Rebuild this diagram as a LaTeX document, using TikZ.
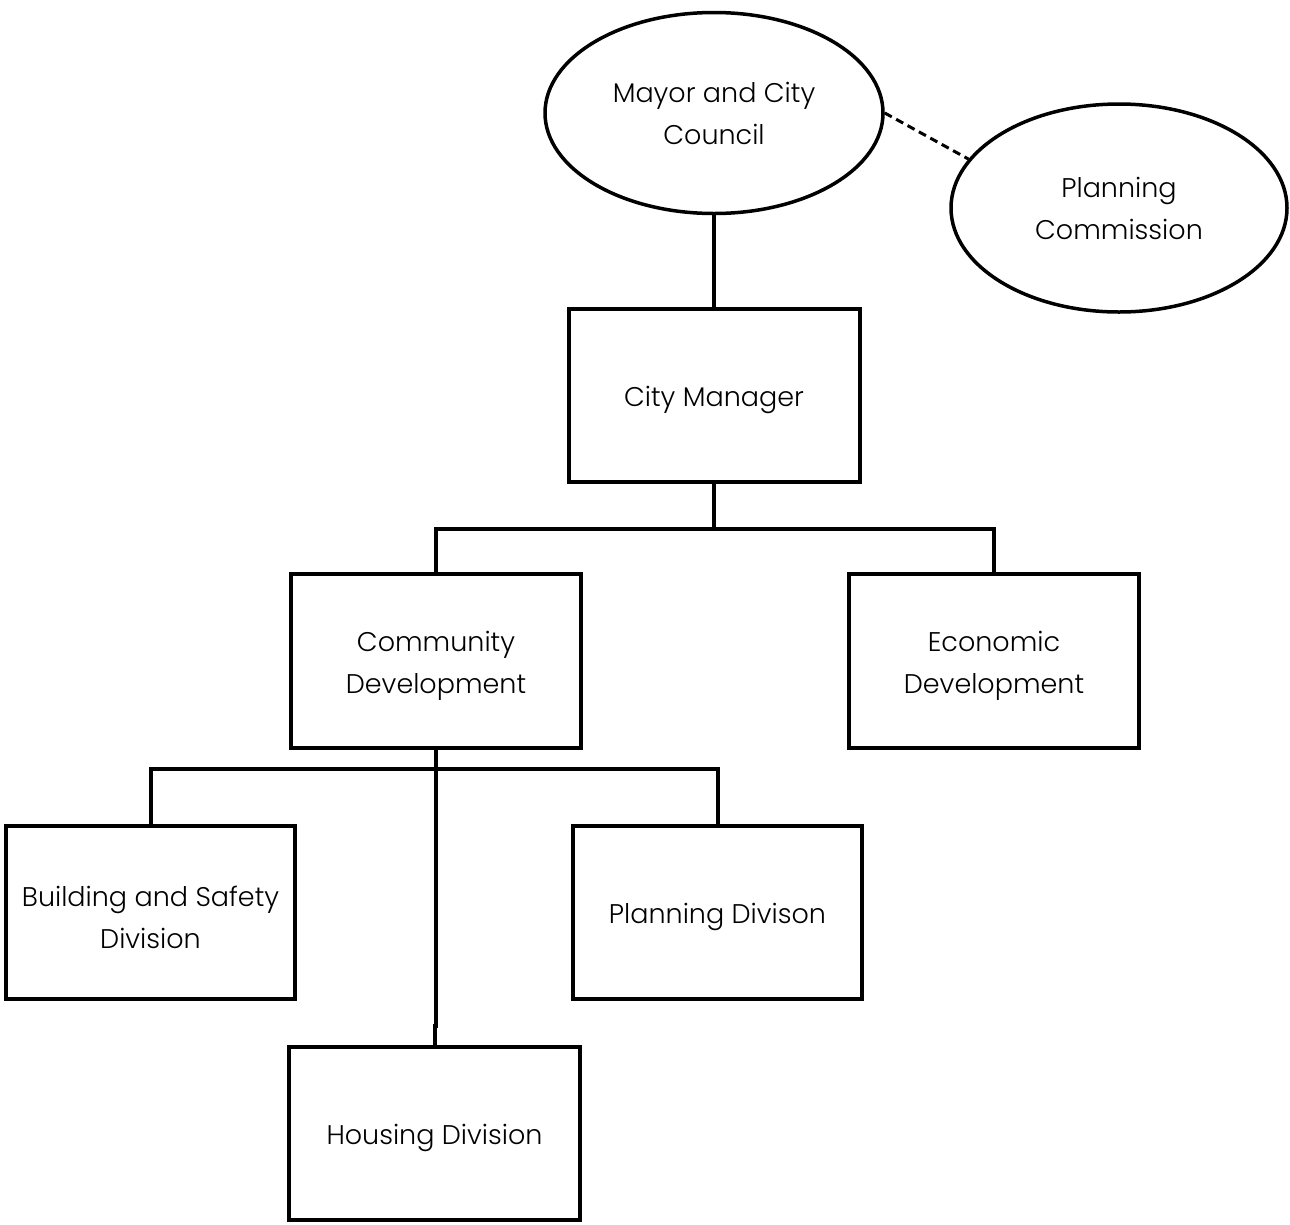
\documentclass[tikz,border=0pt]{standalone}
\usepackage{fontspec}
\setmainfont{Poppins}[UprightFont=* Light]
\usetikzlibrary{shapes.geometric}
\begin{document}
\begin{tikzpicture}[x=1pt,y=-1pt,
  every node/.style={font=\fontsize{27}{42}\selectfont, align=center, inner sep=0pt},
  unit/.style={draw, line width=4pt, rectangle, minimum width=290pt, minimum height=173pt, text height=30pt},
  unittwo/.style={unit, text height=72pt},
  oval/.style={draw, line width=3.5pt, ellipse},
  link/.style={line width=4pt},
  dotlink/.style={line width=3pt, dash pattern=on 8pt off 5pt}]
\useasboundingbox (0,0) rectangle (1290,1224);
\node[oval, minimum width=338pt, minimum height=201pt] (mayor) at (714,113) {Mayor and City\\Council};
\node[oval, minimum width=336pt, minimum height=208pt] (pc) at (1119,208) {Planning\\Commission};
\node[unit, minimum width=291pt] (cm) at (714,395.5) {City Manager};
\node[unittwo, minimum height=174pt] (cd) at (436,661) {Community\\Development};
\node[unittwo, minimum height=174pt] (ed) at (994,661) {Economic\\Development};
\node[unittwo, minimum width=289pt] (bs) at (150.5,912.5) {Building and Safety\\Division};
\node[unit, minimum width=289pt] (pd) at (717.5,912.5) {Planning Divison};
\node[unit, minimum width=291pt] (hd) at (434.5,1133.5) {Housing Division};
\coordinate (j1) at (714,529);
\coordinate (j2) at (436,769);
\coordinate (kink) at (436,1026);
\draw[dotlink] (mayor.east) -- (pc.162);
\draw[link] (mayor.south) -- (cm.north);
\draw[link] (cm.south) -- (j1);
\draw[link] (cd.north) -- (cd.north |- j1) -- (ed.north |- j1) -- (ed.north);
\draw[link] (bs.north) -- (bs.north |- j2) -- (pd.north |- j2) -- (pd.north);
\draw[link] (cd.south) -- (kink) -- (kink -| hd.north) -- (hd.north);
\end{tikzpicture}
\end{document}
